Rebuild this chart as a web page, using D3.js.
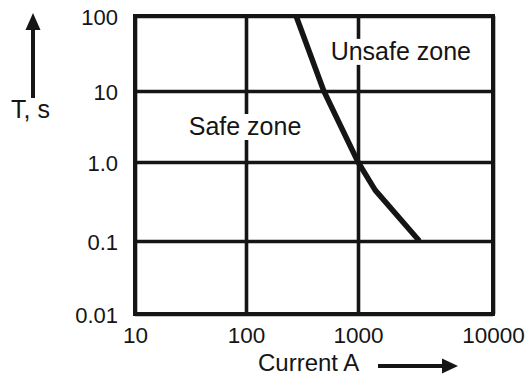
<!DOCTYPE html>
<html>
<head>
<meta charset="utf-8">
<script src="https://cdn.jsdelivr.net/npm/d3@7"></script>
<style>
  html, body { margin: 0; padding: 0; background: #fff; }
  svg { display: block; font-family: "Liberation Sans", Arial, sans-serif; }
</style>
</head>
<body>
<svg id="chart" width="529" height="378"></svg>
<script>
// ---- data ----
const currentValues = [280, 495, 1000, 1340, 2850];   // A
const timeValues    = [100, 10, 1, 0.44, 0.1];         // s
const xTickValues = [10, 100, 1000, 10000];
const xTickLabels = ["10", "100", "1000", "10000"];
const yTickValues = [100, 10, 1, 0.1, 0.01];
const yTickLabels = ["100", "10", "1.0", "0.1", "0.01"];
const zoneLabels = [
  { text: "Safe zone",   current: 30.5, time: 2.4 },
  { text: "Unsafe zone", current: 570,  time: 26 }
];
const xTitle = "Current A";
const yTitle = "T, s";

// ---- layout ----
const svg = d3.select("#chart");
const ink = "#151515";
const x = d3.scaleLog().domain([10, 100, 1000, 10000]).range([135, 246, 358, 493]);
const y = d3.scaleLog().domain([100, 10, 1, 0.1, 0.01]).range([16, 91, 162, 241, 314]);
const [x0, x1] = [x(10), x(10000)];
const [y0, y1] = [y(100), y(0.01)];
const gridW = 3.6;

// grid via axes
const gx = svg.append("g").attr("transform", `translate(0,${y1})`)
  .call(d3.axisBottom(x).tickValues(xTickValues).tickSize(-(y1 - y0))
    .tickFormat((d, i) => xTickLabels[i]));
gx.select(".domain").remove();
gx.selectAll(".tick line").attr("stroke", ink).attr("stroke-width", gridW);
gx.selectAll(".tick text").attr("y", 29).attr("dy", 0)
  .attr("fill", ink).attr("font-size", 22.5).attr("font-family", "Liberation Sans, Arial, sans-serif");

const gy = svg.append("g").attr("transform", `translate(${x0},0)`)
  .call(d3.axisLeft(y).tickValues(yTickValues).tickSize(-(x1 - x0))
    .tickFormat((d, i) => yTickLabels[i]));
gy.select(".domain").remove();
gy.selectAll(".tick line").attr("stroke", ink).attr("stroke-width", gridW);
gy.selectAll(".tick text").attr("x", -17).attr("dy", "0.4em")
  .attr("fill", ink).attr("font-size", 22).attr("font-family", "Liberation Sans, Arial, sans-serif");

// border
svg.append("rect").attr("x", x0).attr("y", y0).attr("width", x1 - x0).attr("height", y1 - y0)
  .attr("fill", "none").attr("stroke", ink).attr("stroke-width", 4);

// zone labels with white backing
zoneLabels.forEach(z => {
  const g = svg.append("g");
  const bg = g.append("rect").attr("fill", "#fff");
  const t = g.append("text").attr("x", x(z.current)).attr("y", y(z.time))
    .attr("font-size", 25).attr("fill", ink).text(z.text);
  const b = t.node().getBBox();
  bg.attr("x", b.x - 2).attr("y", y(z.time) - 21).attr("width", b.width + 4).attr("height", 26);
});

// curve
const line = d3.line().x((d, i) => x(currentValues[i])).y(d => y(d));
svg.append("path").datum(timeValues).attr("d", line)
  .attr("fill", "none").attr("stroke", ink).attr("stroke-width", 5.5)
  .attr("stroke-linejoin", "round").attr("stroke-linecap", "butt");

// y title + arrow
svg.append("line").attr("x1", 33).attr("x2", 33).attr("y1", 98).attr("y2", 26)
  .attr("stroke", ink).attr("stroke-width", 4);
svg.append("path").attr("d", "M33,13 L25.5,30 L40.5,30 Z").attr("fill", ink);
svg.append("text").attr("x", 11).attr("y", 118).attr("font-size", 25).attr("fill", ink).text(yTitle);

// x title + arrow
svg.append("text").attr("x", 258).attr("y", 371).attr("font-size", 24).attr("fill", ink).text(xTitle);
svg.append("line").attr("x1", 378).attr("x2", 444).attr("y1", 366).attr("y2", 366)
  .attr("stroke", ink).attr("stroke-width", 4);
svg.append("path").attr("d", "M458,366 L442,358.5 L442,373.5 Z").attr("fill", ink);
</script>
</body>
</html>
